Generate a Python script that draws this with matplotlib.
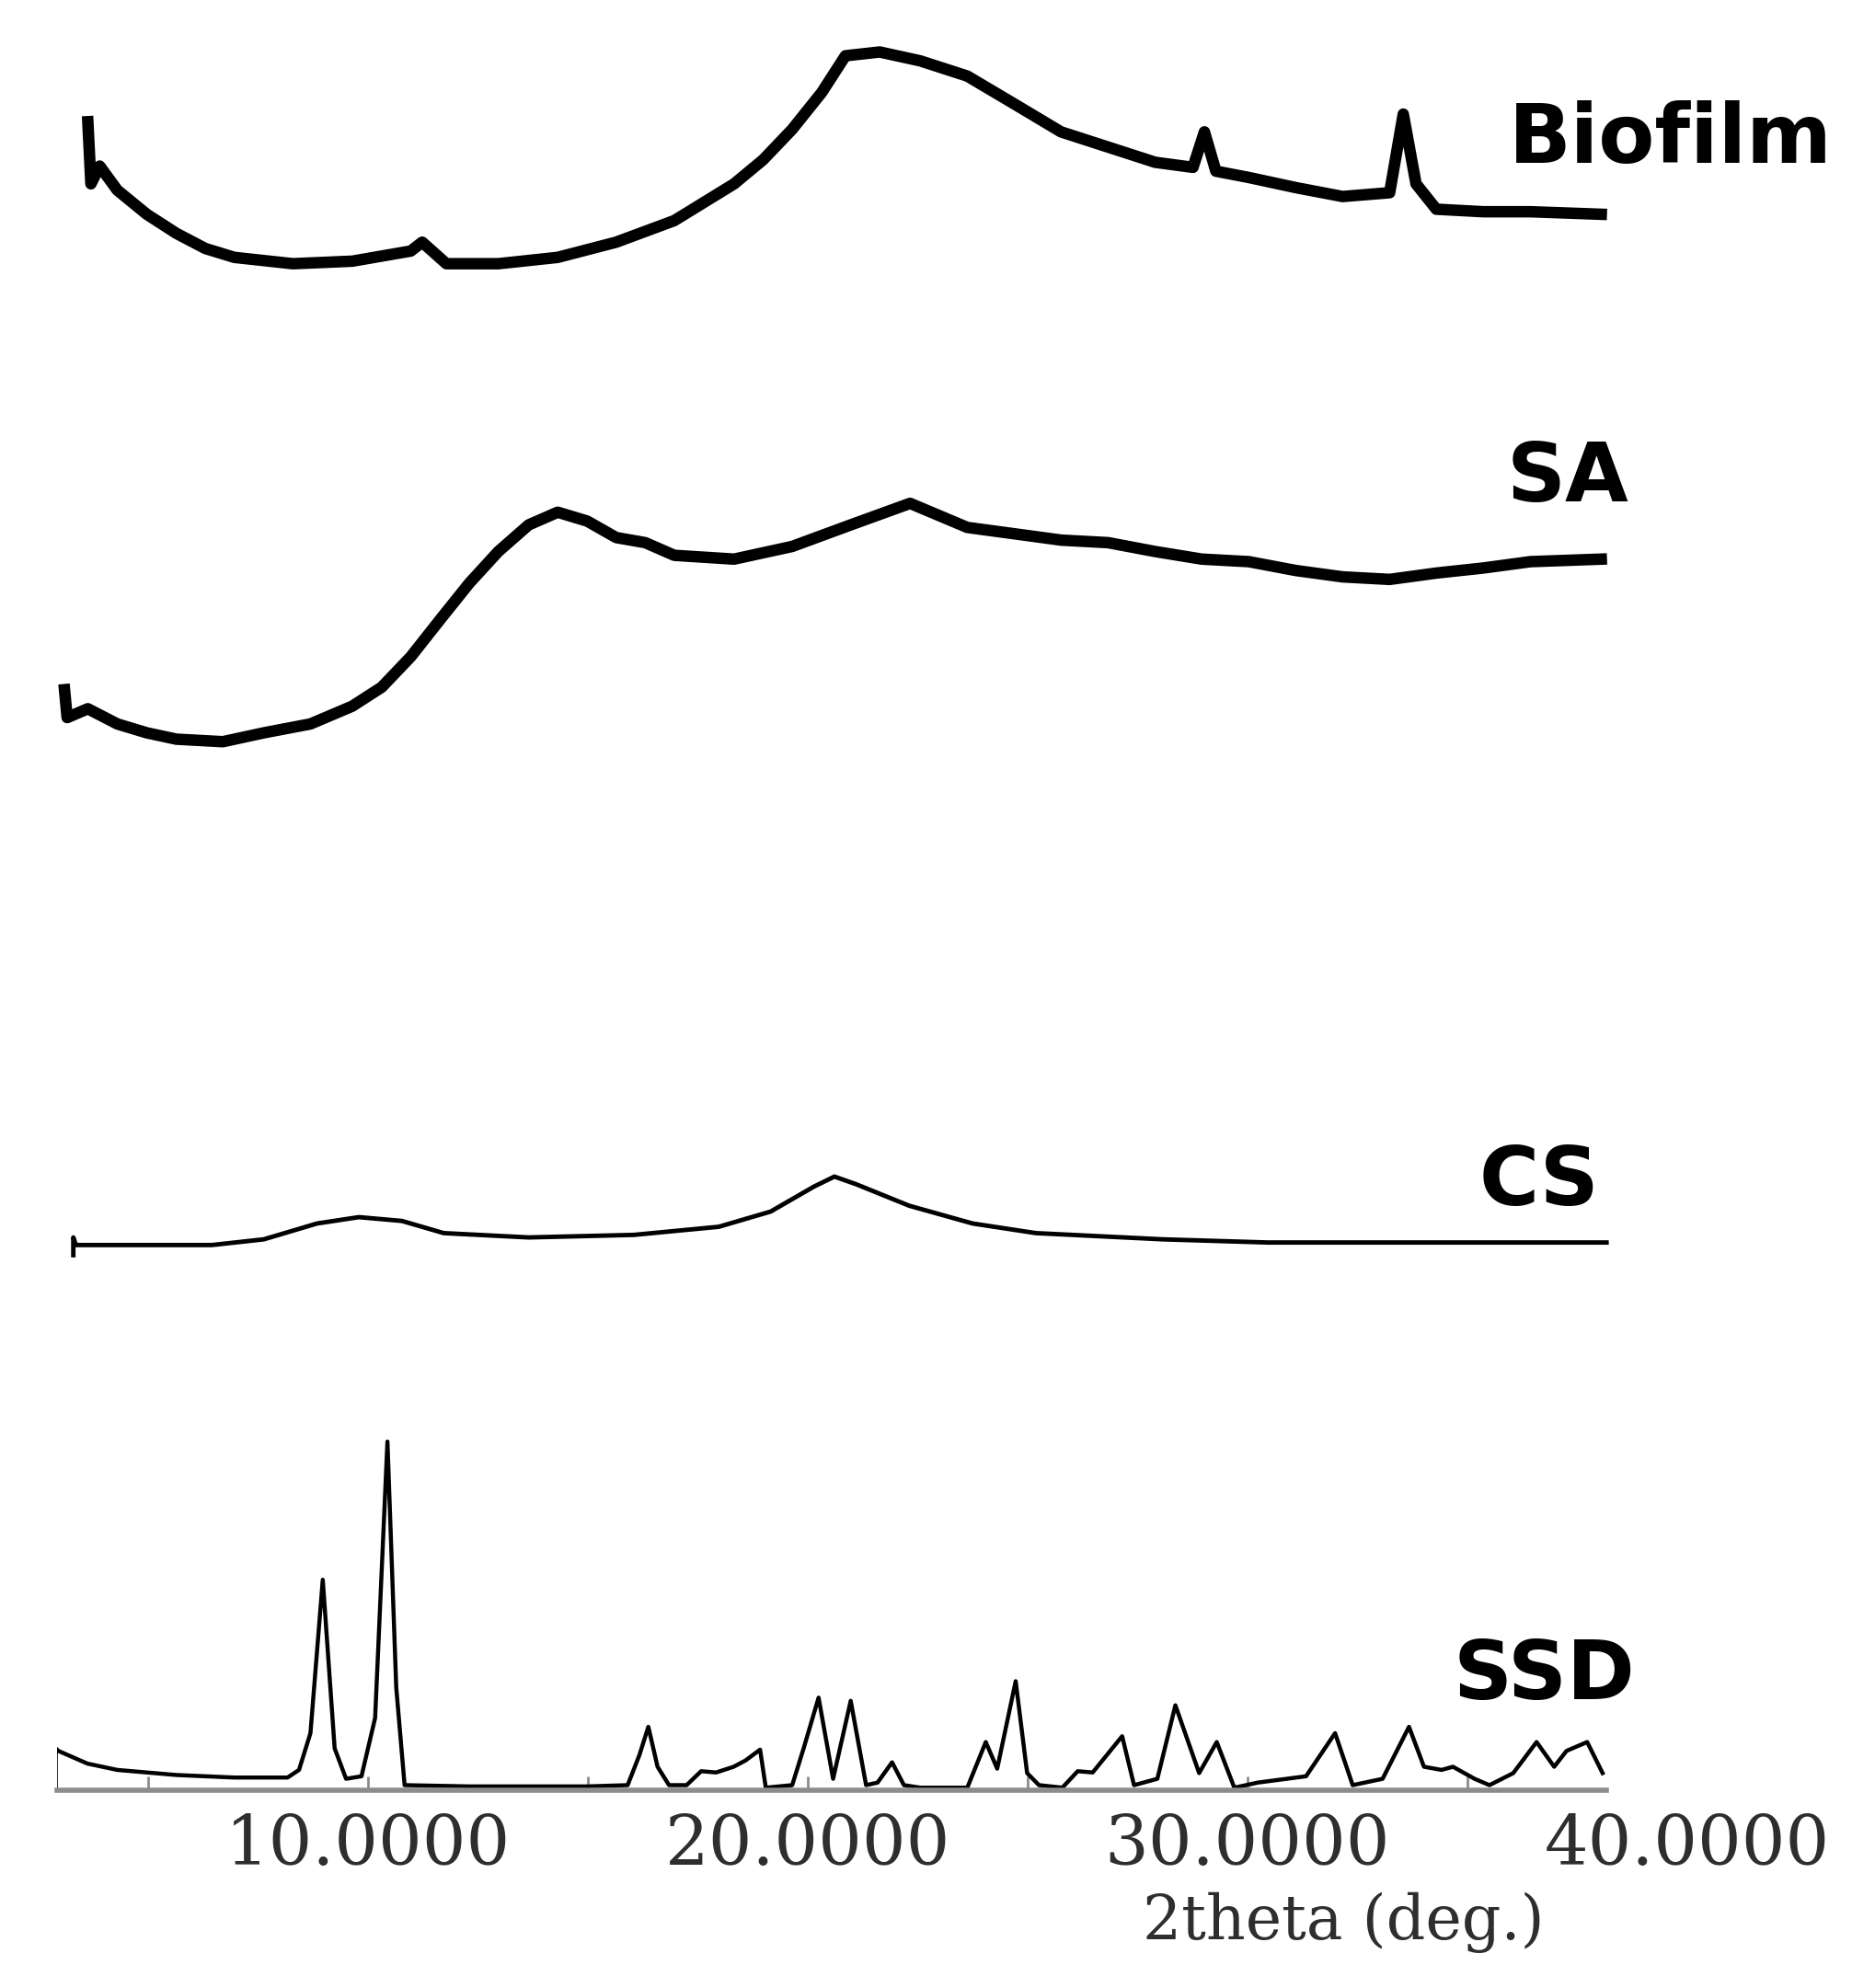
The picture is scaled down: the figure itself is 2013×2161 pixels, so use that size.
import matplotlib
matplotlib.use("Agg")
import matplotlib.pyplot as plt

# XRD patterns, 2theta in degrees, intensity in arbitrary units (each relative to its own baseline)
biofilm_x = [3.64, 3.71, 3.91, 4.31, 4.98, 5.65, 6.31, 6.97, 8.30, 9.65, 10.98, 11.24, 11.79, 12.97,
             14.32, 15.65, 16.97, 18.33, 18.99, 19.65, 20.32, 20.86, 21.64, 22.56, 23.63, 24.70,
             25.76, 26.83, 27.90, 28.76, 29.02, 29.28, 30.03, 31.10, 32.16, 33.23, 33.54, 33.83,
             34.29, 35.36, 36.43, 38.04]
biofilm_y = [112, 63, 77, 58, 39, 24, 12, 5, 0, 2, 10, 17, 0, 0,
             5, 17, 34, 63, 82, 106, 135, 164, 167, 160, 148, 126,
             104, 92, 80, 76, 104, 73, 68, 60, 53, 56, 118, 63,
             43, 41, 41, 39]

sa_x = [3.11, 3.17, 3.64, 4.31, 4.98, 5.65, 6.71, 7.64, 8.70, 9.65, 10.32, 10.98, 11.64, 12.31,
        12.97, 13.66, 14.32, 14.99, 15.65, 16.31, 16.97, 18.33, 19.65, 20.98, 22.33, 23.63,
        24.70, 25.76, 26.83, 27.90, 28.96, 30.03, 31.10, 32.16, 33.23, 34.29, 35.36, 36.43, 38.04]
sa_y = [41, 19, 26, 14, 7, 2, 0, 7, 14, 28, 43, 67, 96, 125,
        150, 171, 181, 174, 161, 157, 147, 144, 154, 171, 188, 169,
        164, 159, 157, 150, 144, 142, 135, 130, 128, 133, 137, 142, 144]

cs_x = [3.31, 3.31, 3.37, 4.03, 6.46, 7.64, 8.85, 9.80, 10.78, 11.73, 13.66, 16.05, 17.98, 19.16,
        20.14, 20.61, 21.10, 22.31, 23.75, 25.19, 28.07, 30.46, 34.06, 38.16]
cs_y = [-8, 6, 0, 0, 0, 4.5, 17, 22, 19, 9.4, 6, 8, 14.4, 26.4,
        46, 54, 48, 31, 17, 9.4, 4.5, 2, 2, 2]

ssd_x = [2.91, 2.91, 2.97, 3.63, 4.31, 5.65, 6.97, 8.18, 8.44, 8.70, 8.98, 9.25, 9.51, 9.86,
         10.17, 10.45, 10.65, 10.84, 12.31, 14.99, 15.91, 16.18, 16.38, 16.59, 16.85, 17.25,
         17.58, 17.92, 18.32, 18.59, 18.92, 19.05, 19.65, 19.91, 20.25, 20.58, 20.98, 21.33,
         21.59, 21.92, 22.19, 22.56, 23.63, 24.05, 24.31, 24.73, 24.99, 25.26, 25.79, 26.14,
         26.48, 27.15, 27.42, 27.95, 28.36, 28.90, 29.30, 29.70, 30.23, 31.33, 31.99, 32.39,
         33.07, 33.67, 34.01, 34.41, 34.67, 35.16, 35.50, 36.04, 36.57, 36.97, 37.25, 37.72, 38.07]
ssd_y = [0, 33, 31, 21, 16, 12, 10, 10, 16, 45, 166, 33, 9, 11,
         57, 275, 81, 4, 3, 3, 4, 28, 50, 18.5, 4, 4,
         15, 14, 18.5, 23.5, 32, 2, 4, 33, 73, 9, 70.5, 4,
         6, 22, 4, 2, 2, 38, 17, 86, 13.5, 4, 2, 15,
         14, 42.6, 4, 9, 67, 13.5, 38, 2, 6, 11, 45, 4,
         9, 50, 18.5, 16, 18.5, 9, 4, 13.5, 38, 18.5, 31, 38, 13.5]

names = ["Biofilm", "SA", "CS", "SSD"]
tick_vals = [10, 20, 30, 40]

# vertical stacking of the patterns
offsets = {"Biofilm": 1204, "SA": 827, "CS": 430, "SSD": 0}

W, H = 2013, 2161
fig = plt.figure(figsize=(W / 100, H / 100), dpi=100)
ax = fig.add_axes([62 / W, (H - 1946) / H, 1820 / W, 1946 / H])

# noisy patterns are drawn as a heavy line
ax.plot(biofilm_x, [v + offsets["Biofilm"] for v in biofilm_y], color="black", lw=9)
ax.plot(sa_x, [v + offsets["SA"] for v in sa_y], color="black", lw=9)
ax.plot(cs_x, [v + offsets["CS"] for v in cs_y], color="black", lw=3.5)
ax.plot(ssd_x, [v + offsets["SSD"] for v in ssd_y], color="black", lw=3.2)

ax.set_xlim(2.94, 41)
ax.set_ylim(0, 1412)

for s in ["top", "left", "right"]:
    ax.spines[s].set_visible(False)
ax.spines["bottom"].set_color("#8c8c8c")
ax.spines["bottom"].set_linewidth(4)
ax.spines["bottom"].set_bounds(2.94, 38.16)
ax.set_yticks([])

ax.set_xticks(tick_vals)
ax.set_xticklabels([f"{v:.4f}" for v in tick_vals], fontsize=54, family="DejaVu Serif",
                   color="#2e2e2e")
ax.set_xticks([5, 10, 15, 20, 25, 30, 35], minor=True)
ax.xaxis.remove_overlapping_locs = False
ax.tick_params(axis="x", which="major", length=0, pad=17)
ax.tick_params(axis="x", which="minor", direction="in", length=11, width=2, color="#8c8c8c")

fig.text(1460 / W, 1 - 2108 / H, "2theta (deg.)", ha="center", va="baseline",
         fontsize=48, family="DejaVu Serif", color="#2e2e2e")

# sample names on the right
label_pos = {"Biofilm": (1992, 177), "SA": (1770, 545), "CS": (1738, 1310), "SSD": (1777, 1847)}
for n in names:
    px, py = label_pos[n]
    fig.text(px / W, 1 - py / H, n, ha="right", va="baseline", fontsize=64,
             family="DejaVu Sans", weight="bold", color="black")

fig.savefig("out.png", dpi=100)
